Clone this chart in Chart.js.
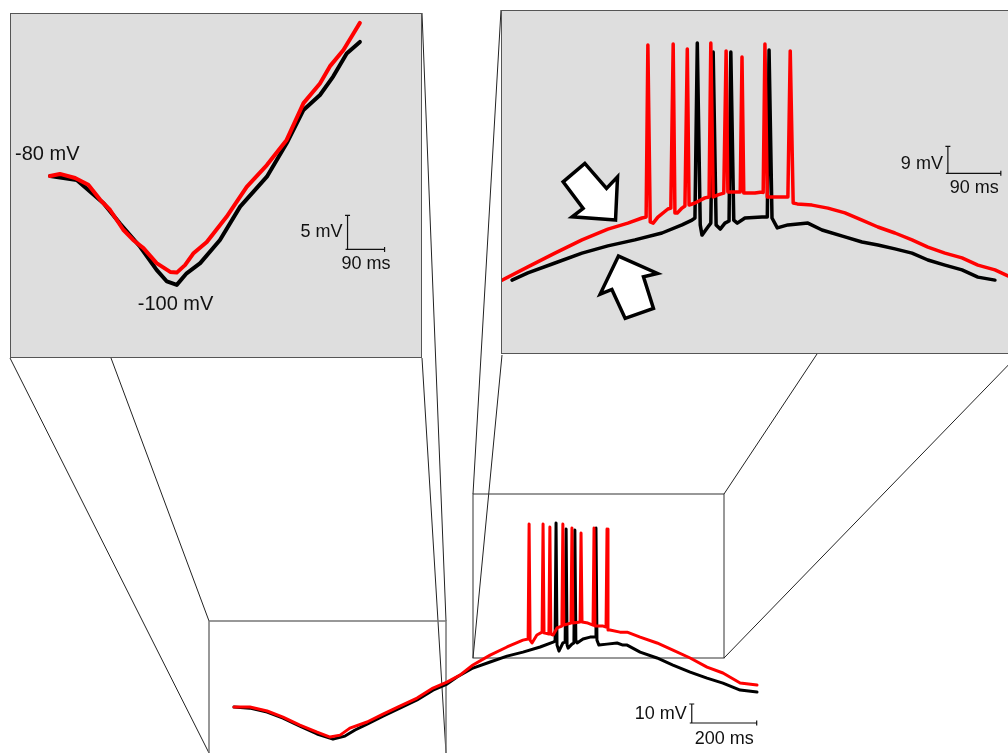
<!DOCTYPE html>
<html>
<head>
<meta charset="utf-8">
<script src="https://cdn.jsdelivr.net/npm/chart.js@4.4.1/dist/chart.umd.min.js"></script>
<style>
  body { margin: 0; background: #fff; }
  #page { position: relative; width: 1008px; height: 753px; overflow: hidden; }
  #mainChart { position: absolute; left: 0; top: 0; }
  .inset { position: absolute; background: #dedede; border: 1px solid #555; }
  .inset canvas { display: block; }
  #leftBox { left: 10px; top: 13px; width: 410px; height: 343px; }
  #rightBox { left: 501px; top: 10px; width: 516px; height: 342px; }
</style>
</head>
<body>
<div id="page">
  <canvas id="mainChart" width="1008" height="753"></canvas>
  <div class="inset" id="leftBox"><canvas id="leftChart" width="410" height="343"></canvas></div>
  <div class="inset" id="rightBox"><canvas id="rightChart" width="516" height="342"></canvas></div>
</div>

<script>
// ---- data (time in ms, membrane potential in mV) ----

// whole recording (bottom)
const mainRedTime = [3,52,105,154,206,259,299,330,360,413, 462,514,567,616,659,699,739,792,844,893,
  909,912,915,921,936,952,955,958,961,973, 976,979,986,998,1013,1016,1019,1041,1044,1047,
  1069,1072,1075,1093,1109,1112,1115,1140,1149,1152, 1155,1161,1192,1214,1254,1306,1355,1408,1460,1509,
  1562,1614];
const mainRedMv = [-80.5,-80.5,-82.6,-85.8,-90,-93.7,-96.3,-95.3,-91.6,-88.4, -84.2,-80,-75.8,-70.5,-67.4,-63.7,-58.4,-53.2,-48.9,-45.3,
  -44.7,15.8,-45.3,-46.8,-42.6,-41.1,15.8,-41.6,-41.6,-42.1, 14.2,-42.1,-42.6,-38.9,-37.9,15.8,-37.4,-36.3,13.7,-36.3,
  -35.8,11.1,-35.8,-36.3,-37.4,13.7,-37.9,-37.9,-38.4,13.2, -40,-40,-41.1,-41.1,-43.7,-46.8,-50.5,-54.7,-59.5,-62.6,
  -67.9,-68.9];
const mainBlackTime = [3,52,105,154,206,259,308,345,376,413, 462,514,567,616,659,690,739,792,844,893,
  946,986,992,995,998,1004,1016,1023,1026,1029, 1032,1044,1050,1053,1056,1060,1078,1100,1115,1118,
  1121,1127,1152,1183,1201,1214,1254,1306,1355,1408, 1460,1509,1562,1614];
const mainBlackMv = [-80.5,-81.1,-83.2,-86.3,-90.5,-94.7,-97.4,-95.8,-92.6,-89.5, -85.3,-81.1,-76.8,-71.6,-68.4,-64.7,-60,-56.8,-53.7,-51.6,
  -48.9,-46.3,-45.8,16.3,-47.9,-51.1,-46.8,-46.3,13.2,-47.9, -49.5,-47.4,-46.8,12.6,-45.3,-46.8,-44.7,-43.7,-43.7,13.7,
  -45.3,-47.9,-47.4,-46.8,-47.9,-47.9,-51.6,-54.7,-58.4,-62.1, -65.3,-67.9,-71.6,-72.6];

// hyperpolarised part (top left inset)
const leftRedTime = [0,24,61,93,122,146,178,202,227,259, 292,308,328,348,381,429,478,527,575,616, 656,680,713,737,753];
const leftRedMv = [-80,-79.7,-80.3,-81.3,-83.5,-85,-87.9,-89.4,-90.6,-92.8, -94.1,-94.2,-93.1,-91.4,-89.7,-86,-81.6,-78.4,-74.7,-69.3,
  -66.4,-63.9,-61.5,-59.1,-57.5];
const leftBlackTime = [0,65,130,170,219,259,284,308,332,365, 413,462,527,575,616,656,688,721,753];
const leftBlackMv = [-80,-80.6,-84,-87,-90.4,-93.8,-95.5,-96,-94.3,-92.8, -89.4,-84.5,-80.1,-75.2,-70.3,-68.1,-65.4,-62,-60.3];

// depolarised part with spikes (top right inset)
const rightRedTime = [0,44,90,136,180,214,238,245,248,252, 257,265,282,287,291,294,298,306,311,315,
  318,328,345,352,355,359,367,377,381,384, 396,405,408,411,430,442,444,447,451,469,
  486,490,495,502,527,554,583,612,639,668, 697,724,753,782,809,838,860];
const rightRedMv = [-58.7,-54.3,-49.7,-45.3,-41.7,-39.7,-38,-37.7,19.7,-39.3, -39.7,-37.7,-35,-34.7,20,-36.3,-36.3,-34.7,-34,18.3,
  -33.7,-33,-31.3,-31,20.3,-31,-30.3,-29.7,17.7,-29.3, -29.3,-29.3,15.7,-29.7,-29.7,-29.3,-29.5,20,-31,-31,
  -31,17.7,-33,-33.3,-33.7,-34.7,-36.3,-38.7,-41,-43, -45.3,-47.7,-49.7,-51.3,-53.7,-55.3,-57.3];
const rightBlackTime = [17,44,90,136,180,226,272,306,323,328, 332,337,340,350,355,359,364,371,379,386,
  389,394,400,413,442,451,454,459,468,486, 520,544,583,612,639,668,697,724,753,782, 809,838];
const rightBlackMv = [-58.7,-56.3,-53,-49.7,-47.3,-45.3,-43,-40.3,-38.7,-38, 20.3,-40.3,-43.7,-41,-39.7,17.3,-40.3,-41.7,-39.7,-39,
  17.3,-38.7,-39.7,-38,-37.7,-37.7,18,-38,-41.3,-40.3, -39.7,-42,-44.3,-46,-47,-48.3,-49.7,-52,-53.7,-55.3, -57.7,-58.7];

// scale bars (corner in data units, sizes in ms / mV)
const mainBar  = { t: 1413, v: -88.9, ms: 200, mv: 10, mvDy: -9,  msDy: 16 };
const leftBar  = { t: 723,  v: -90.8, ms: 90,  mv: 5,  mvDy: -17, msDy: 15 };
const rightBar = { t: 758,  v: -23.1, ms: 90,  mv: 9,  mvDy: -9,  msDy: 15 };

// text labels in the left inset, anchored on a trace point
const leftLabels = [
  { text: '-80 mV',  t: 0,   v: -80, dx: -35, dy: -21 },
  { text: '-100 mV', t: 308, v: -96, dx: -39, dy: 20 }
];

// the two block arrows in the right inset (tip in data units, outline in px)
const arrows = [
  { t: 193, v: -38.7, shape: [[0,0],[-43.4,-3.3],[-32.4,-11.7],[-52.4,-38.3],[-30.7,-56.7],[-9,-31.7],[2,-43.3]] },
  { t: 198, v: -50.7, shape: [[0,0],[-18.3,38],[-6.6,33.3],[6.7,62.3],[35,52.3],[25,20.7],[39,17.3]] }
];

// zoom boxes and guide lines on the page (pixels)
const zoomBoxes = [
  { x: 209, y: 621, w: 237, h: 140, color: '#777', width: 1.5 },
  { x: 473, y: 494, w: 251, h: 164, color: '#333', width: 1 }
];
const guideLines = [
  [10,358, 209,753], [111,358, 209,621], [422,13, 446,621], [422,358, 446,753],
  [501,10, 473,494], [502,355, 473,658], [817,354, 724,494], [1019,354, 724,658]
];

const FONT_SMALL = '18px "Liberation Sans", Arial, sans-serif';
const FONT_BIG = '20px "Liberation Sans", Arial, sans-serif';


function pairs(ts, vs) {
  return ts.map((t, i) => ({ x: t, y: vs[i] }));
}

function drawScaleBar(chart, bar) {
  const ctx = chart.ctx, sx = chart.scales.x, sy = chart.scales.y;
  const x0 = sx.getPixelForValue(bar.t), y0 = sy.getPixelForValue(bar.v);
  const x1 = sx.getPixelForValue(bar.t + bar.ms), y1 = sy.getPixelForValue(bar.v + bar.mv);
  ctx.save();
  ctx.strokeStyle = '#111';
  ctx.lineWidth = 1.2;
  ctx.beginPath();
  ctx.moveTo(x0, y1); ctx.lineTo(x0, y0); ctx.lineTo(x1, y0);
  ctx.moveTo(x0 - 2.5, y1); ctx.lineTo(x0 + 2.5, y1);   // end caps
  ctx.moveTo(x1, y0 - 2.5); ctx.lineTo(x1, y0 + 2.5);
  ctx.moveTo(x0 - 2, y0); ctx.lineTo(x0 + 2, y0);
  ctx.stroke();
  ctx.fillStyle = '#111';
  ctx.font = FONT_SMALL;
  ctx.textBaseline = 'middle';
  ctx.textAlign = 'right';
  ctx.fillText(bar.mv + ' mV', x0 - 5, y0 + bar.mvDy);
  ctx.textAlign = 'center';
  ctx.fillText(bar.ms + ' ms', (x0 + x1) / 2, y0 + bar.msDy);
  ctx.restore();
}

function traceChart(id, redT, redV, blackT, blackV, xRange, yRange, lw, extra) {
  return new Chart(document.getElementById(id), {
    type: 'line',
    data: {
      datasets: [
        { data: pairs(redT, redV), borderColor: 'rgb(255,0,0)', borderWidth: lw, order: 0 },
        { data: pairs(blackT, blackV), borderColor: '#000', borderWidth: lw, order: 1 }
      ]
    },
    options: {
      responsive: false,
      animation: false,
      devicePixelRatio: 1,
      events: [],
      layout: { padding: 0 },
      elements: {
        point: { radius: 0 },
        line: { tension: 0, borderJoinStyle: 'round', borderCapStyle: 'round' }
      },
      plugins: { legend: { display: false }, tooltip: { enabled: false } },
      scales: {
        x: { type: 'linear', min: xRange[0], max: xRange[1], display: false },
        y: { type: 'linear', min: yRange[0], max: yRange[1], display: false }
      }
    },
    plugins: [extra]
  });
}


// whole trace + zoom boxes --------------------------------
traceChart('mainChart', mainRedTime, mainRedMv, mainBlackTime, mainBlackMv,
  [-717.6, 2387], [-104.7, 291.6], 3, {
  id: 'mainExtras',
  beforeDatasetsDraw(chart) {
    const ctx = chart.ctx;
    ctx.save();
    ctx.strokeStyle = '#222';
    ctx.lineWidth = 1;
    guideLines.forEach(l => {
      ctx.beginPath(); ctx.moveTo(l[0], l[1]); ctx.lineTo(l[2], l[3]); ctx.stroke();
    });
    zoomBoxes.forEach(b => {
      ctx.strokeStyle = b.color; ctx.lineWidth = b.width;
      ctx.strokeRect(b.x, b.y, b.w, b.h);
    });
    ctx.restore();
  },
  afterDraw(chart) { drawScaleBar(chart, mainBar); }
});

// left inset --------------------------------
traceChart('leftChart', leftRedTime, leftRedMv, leftBlackTime, leftBlackMv,
  [-94.8, 901.5], [-106.6, -56.2], 4, {
  id: 'leftExtras',
  afterDraw(chart) {
    const ctx = chart.ctx;
    drawScaleBar(chart, leftBar);
    ctx.save();
    ctx.font = FONT_BIG;
    ctx.fillStyle = '#111';
    ctx.textAlign = 'left';
    ctx.textBaseline = 'middle';
    leftLabels.forEach(l => {
      ctx.fillText(l.text, chart.scales.x.getPixelForValue(l.t) + l.dx, chart.scales.y.getPixelForValue(l.v) + l.dy);
    });
    ctx.restore();
  }
});

// right inset --------------------------------
traceChart('rightChart', rightRedTime, rightRedMv, rightBlackTime, rightBlackMv,
  [0, 877.2], [-83, 31], 3.5, {
  id: 'rightExtras',
  afterDraw(chart) {
    const ctx = chart.ctx;
    drawScaleBar(chart, rightBar);
    ctx.save();
    ctx.fillStyle = '#fff';
    ctx.strokeStyle = '#000';
    ctx.lineWidth = 3.5;
    ctx.lineJoin = 'miter';
    arrows.forEach(a => {
      const px = chart.scales.x.getPixelForValue(a.t), py = chart.scales.y.getPixelForValue(a.v);
      ctx.beginPath();
      a.shape.forEach((p, i) => {
        if (i === 0) ctx.moveTo(px + p[0], py + p[1]); else ctx.lineTo(px + p[0], py + p[1]);
      });
      ctx.closePath();
      ctx.fill();
      ctx.stroke();
    });
    ctx.restore();
  }
});
</script>
</body>
</html>
